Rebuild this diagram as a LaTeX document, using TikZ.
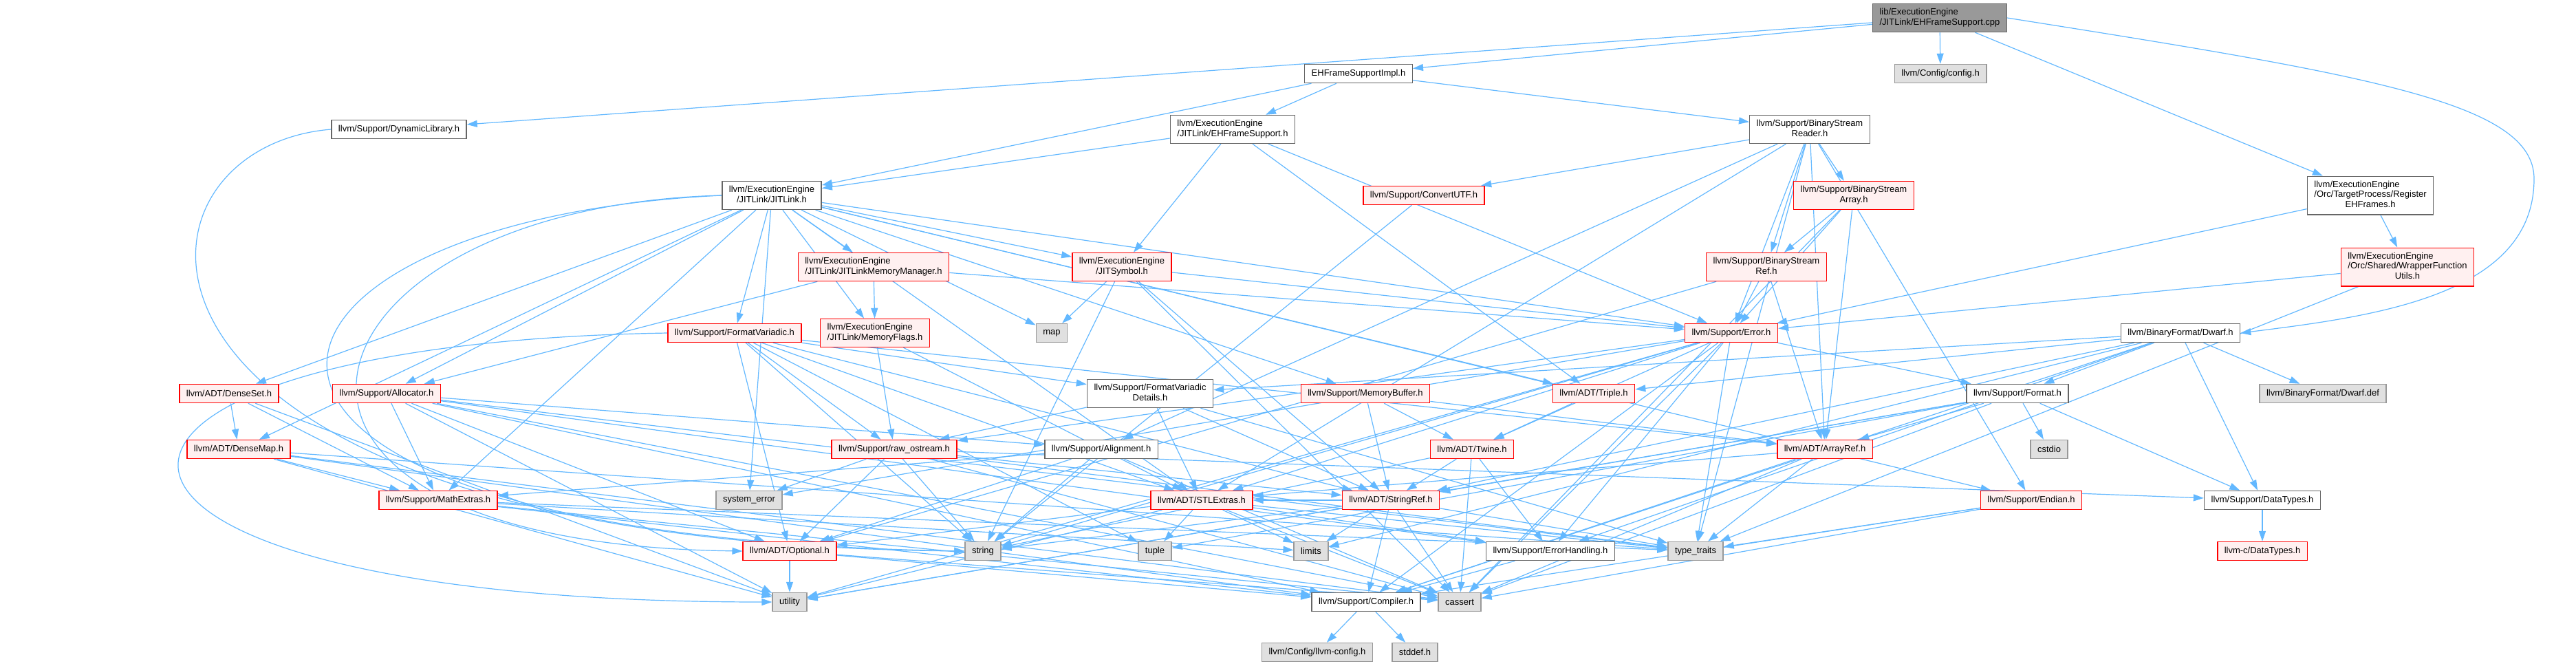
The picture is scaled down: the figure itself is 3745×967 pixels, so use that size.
\documentclass[tikz,border=0pt]{standalone}
\usepackage{fontspec}
\setmainfont{Liberation Sans}
\usetikzlibrary{arrows.meta,backgrounds}

\definecolor{edgeblue}{HTML}{63B8FF}
\definecolor{redfill}{HTML}{FFF0F0}
\definecolor{sysfill}{HTML}{E0E0E0}
\definecolor{sysdraw}{HTML}{999999}
\definecolor{hdrdraw}{HTML}{666666}
\definecolor{srcfill}{HTML}{999999}

\newcommand{\twoline}[2]{\begin{tabular}{@{}l@{}}#1\\\multicolumn{1}{@{}c@{}}{#2}\end{tabular}}
\newcommand{\threeline}[3]{\begin{tabular}{@{}l@{}}#1\\#2\\\multicolumn{1}{@{}c@{}}{#3}\end{tabular}}

\tikzset{
  hdr/.style={draw=hdrdraw, fill=white, line width=1.5pt, inner xsep=10pt, inner ysep=6pt, minimum height=27pt, font=\fontsize{13}{14.5}\selectfont},
  redhdr/.style={hdr, draw=red, fill=redfill},
  syshdr/.style={hdr, draw=sysdraw, fill=sysfill},
  srchdr/.style={hdr, draw=hdrdraw, fill=srcfill},
  inc/.style={draw=edgeblue, line width=1.2pt, -{Triangle[length=15pt,width=10pt]}}
}

\begin{document}
\begin{tikzpicture}[x=1pt,y=-1pt]
  \useasboundingbox (0,0) rectangle (3745,967);

  % rank 0-2
  \node[srchdr] (main) at (2820,26) {\twoline{lib/ExecutionEngine}{/JITLink/EHFrameSupport.cpp}};
  \node[hdr] (impl) at (1975,107) {EHFrameSupportImpl.h};
  \node[syshdr] (config) at (2821,107) {llvm/Config/config.h};
  \node[hdr] (dynlib) at (580,188) {llvm/Support/DynamicLibrary.h};
  \node[hdr] (ehfs) at (1792,188) {\twoline{llvm/ExecutionEngine}{/JITLink/EHFrameSupport.h}};
  \node[hdr] (bsreader) at (2631,188) {\twoline{llvm/Support/BinaryStream}{Reader.h}};

  % rank 3-4
  \node[hdr] (jitlink) at (1122,284) {\twoline{llvm/ExecutionEngine}{/JITLink/JITLink.h}};
  \node[redhdr] (convutf) at (2070,284) {llvm/Support/ConvertUTF.h};
  \node[redhdr] (bsarray) at (2695,284) {\twoline{llvm/Support/BinaryStream}{Array.h}};
  \node[hdr] (regeh) at (3446,284) {\threeline{llvm/ExecutionEngine}{/Orc/TargetProcess/Register}{EHFrames.h}};
  \node[redhdr] (jlmm) at (1270,388) {\twoline{llvm/ExecutionEngine}{/JITLink/JITLinkMemoryManager.h}};
  \node[redhdr] (jitsym) at (1631,388) {\twoline{llvm/ExecutionEngine}{/JITSymbol.h}};
  \node[redhdr] (bsref) at (2568,388) {\twoline{llvm/Support/BinaryStream}{Ref.h}};
  \node[redhdr] (wrapper) at (3500,388) {\threeline{llvm/ExecutionEngine}{/Orc/Shared/WrapperFunction}{Utils.h}};

  % rank 5-6
  \node[redhdr] (fmtvar) at (1068,484) {llvm/Support/FormatVariadic.h};
  \node[redhdr] (memflags) at (1272,484) {\twoline{llvm/ExecutionEngine}{/JITLink/MemoryFlags.h}};
  \node[syshdr] (map) at (1529,484) {map};
  \node[redhdr] (error) at (2517,484) {llvm/Support/Error.h};
  \node[hdr] (dwarf) at (3170,484) {llvm/BinaryFormat/Dwarf.h};
  \node[redhdr] (denseset) at (333,572) {llvm/ADT/DenseSet.h};
  \node[redhdr] (allocator) at (562,572) {llvm/Support/Allocator.h};
  \node[hdr] (fvdetails) at (1672,572) {\twoline{llvm/Support/FormatVariadic}{Details.h}};
  \node[redhdr] (membuf) at (1985,572) {llvm/Support/MemoryBuffer.h};
  \node[redhdr] (triple) at (2317,572) {llvm/ADT/Triple.h};
  \node[hdr] (format) at (2933,572) {llvm/Support/Format.h};
  \node[syshdr] (dwarfdef) at (3377,572) {llvm/BinaryFormat/Dwarf.def};

  % rank 7-8
  \node[redhdr] (densemap) at (347,653) {llvm/ADT/DenseMap.h};
  \node[redhdr] (rawos) at (1300,653) {llvm/Support/raw\_ostream.h};
  \node[hdr] (alignment) at (1601,653) {llvm/Support/Alignment.h};
  \node[redhdr] (twine) at (2140,653) {llvm/ADT/Twine.h};
  \node[redhdr] (arrayref) at (2653,653) {llvm/ADT/ArrayRef.h};
  \node[syshdr] (cstdio) at (2979,653) {cstdio};
  \node[redhdr] (mathext) at (637,727) {llvm/Support/MathExtras.h};
  \node[syshdr] (syserror) at (1089,727) {system\_error};
  \node[redhdr] (stlextras) at (1747,727) {llvm/ADT/STLExtras.h};
  \node[redhdr] (stringref) at (2022,727) {llvm/ADT/StringRef.h};
  \node[redhdr] (endian) at (2953,727) {llvm/Support/Endian.h};
  \node[hdr] (datatypes) at (3289,727) {llvm/Support/DataTypes.h};

  % rank 9-11
  \node[redhdr] (optional) at (1148,801) {llvm/ADT/Optional.h};
  \node[syshdr] (string) at (1429,801) {string};
  \node[syshdr] (tuple) at (1679,801) {tuple};
  \node[syshdr] (limits) at (1906,801) {limits};
  \node[hdr] (errhandling) at (2254,801) {llvm/Support/ErrorHandling.h};
  \node[syshdr] (typetraits) at (2465,801) {type\_traits};
  \node[redhdr] (llvmc) at (3289,801) {llvm-c/DataTypes.h};
  \node[syshdr] (utility) at (1148,875) {utility};
  \node[hdr] (compiler) at (1986,875) {llvm/Support/Compiler.h};
  \node[syshdr] (cassert) at (2122,875) {cassert};
  \node[syshdr] (llvmconfig) at (1915,948) {llvm/Config/llvm-config.h};
  \node[syshdr] (stddef) at (2057,948) {stddef.h};

  \coordinate (dwarfbend) at (3684,260);

  \begin{scope}[on background layer]
  % source file
  \draw[inc] (main) -- (impl);
  \draw[inc] (main) -- (config);
  \draw[inc] (main) -- (dynlib);
  \draw[inc] (main) -- (regeh);
  \draw[inc] (main.east) .. controls (3450,110) and (3684,150) .. (dwarfbend) .. controls (3684,430) and (3450,460) .. (dwarf.east);
  % impl, dynlib, ehfs
  \draw[inc] (impl) -- (ehfs);
  \draw[inc] (impl) -- (jitlink);
  \draw[inc] (impl) -- (bsreader);
  \draw[inc] (dynlib.west) .. controls (150,215) and (110,790) .. (string.west);
  \draw[inc] (ehfs) -- (jitlink);
  \draw[inc] (ehfs) -- (jitsym);
  \draw[inc] (ehfs) -- (triple);
  \draw[inc] (ehfs) -- (error);
  % binary stream reader
  \draw[inc] (bsreader) -- (convutf);
  \draw[inc] (bsreader) -- (bsarray);
  \draw[inc] (bsreader) -- (bsref);
  \draw[inc] (bsreader) -- (error);
  \draw[inc] (bsreader) -- (alignment);
  \draw[inc] (bsreader) -- (arrayref);
  \draw[inc] (bsreader) -- (stlextras);
  \draw[inc] (bsreader) -- (endian);
  \draw[inc] (bsreader) -- (typetraits);
  % jitlink
  \draw[inc] (jitlink) -- (jlmm);
  \draw[inc] (jitlink) -- (memflags);
  \draw[inc] (jitlink) -- (jitsym);
  \draw[inc] (jitlink) -- (fmtvar);
  \draw[inc] (jitlink) -- (densemap);
  \draw[inc] (jitlink) -- (denseset);
  \draw[inc] (jitlink) -- (allocator);
  \draw[inc] (jitlink.west) .. controls (420,300) and (260,790) .. (optional.west);
  \draw[inc] (jitlink) -- (stlextras);
  \draw[inc] (jitlink) -- (triple);
  \draw[inc] (jitlink) -- (endian);
  \draw[inc] (jitlink) -- (error);
  \draw[inc] (jitlink) -- (mathext);
  \draw[inc] (jitlink) -- (membuf);
  \draw[inc] (jitlink) -- (map);
  \draw[inc] (jitlink.west) .. controls (300,320) and (160,780) .. (string.west);
  \draw[inc] (jitlink) -- (syserror);
  % rank 3-4 others
  \draw[inc] (convutf) -- (string);
  \draw[inc] (bsarray) -- (bsref);
  \draw[inc] (bsarray) -- (error);
  \draw[inc] (bsarray) -- (arrayref);
  \draw[inc] (bsarray) -- (cassert);
  \draw[inc] (regeh) -- (wrapper);
  \draw[inc] (regeh) -- (error);
  \draw[inc] (wrapper) -- (error);
  \draw[inc] (wrapper) -- (typetraits);
  \draw[inc] (jlmm) -- (memflags);
  \draw[inc] (jlmm) -- (allocator);
  \draw[inc] (jlmm) -- (error);
  \draw[inc] (jitsym) -- (map);
  \draw[inc] (jitsym) -- (string);
  \draw[inc] (jitsym) -- (cassert);
  \draw[inc] (jitsym) -- (stringref);
  \draw[inc] (jitsym) -- (error);
  \draw[inc] (bsref) -- (arrayref);
  \draw[inc] (bsref) -- (optional);
  \draw[inc] (bsref) -- (error);
  % format variadic
  \draw[inc] (fmtvar) -- (fvdetails);
  \draw[inc] (fmtvar) -- (arrayref);
  \draw[inc] (fmtvar) -- (optional);
  \draw[inc] (fmtvar) -- (stlextras);
  \draw[inc] (fmtvar) -- (stringref);
  \draw[inc] (fmtvar) -- (rawos);
  \draw[inc] (fmtvar) -- (string);
  \draw[inc] (fmtvar) -- (tuple);
  \draw[inc] (fmtvar.west) .. controls (0,500) and (0,875) .. (utility.west);
  \draw[inc] (memflags) -- (stlextras);
  \draw[inc] (memflags) -- (rawos);
  % error
  \draw[inc] (error) -- (stlextras);
  \draw[inc] (error) -- (twine);
  \draw[inc] (error) -- (compiler);
  \draw[inc] (error) -- (errhandling);
  \draw[inc] (error) -- (format);
  \draw[inc] (error) -- (rawos);
  \draw[inc] (error) -- (cassert);
  \draw[inc] (error) -- (string);
  \draw[inc] (error) -- (syserror);
  \draw[inc] (error) -- (typetraits);
  \draw[inc] (error) -- (utility);
  % dwarf
  \draw[inc] (dwarf) -- (fvdetails);
  \draw[inc] (dwarf) -- (triple);
  \draw[inc] (dwarf) -- (format);
  \draw[inc] (dwarf) -- (dwarfdef);
  \draw[inc] (dwarf) -- (stringref);
  \draw[inc] (dwarf) -- (compiler);
  \draw[inc] (dwarf) -- (errhandling);
  \draw[inc] (dwarf) -- (datatypes);
  \draw[inc] (dwarf) -- (limits);
  % rank 6
  \draw[inc] (denseset) -- (densemap);
  \draw[inc] (denseset) -- (mathext);
  \draw[inc] (denseset) -- (utility);
  \draw[inc] (allocator) -- (optional);
  \draw[inc] (allocator) -- (alignment);
  \draw[inc] (allocator) -- (compiler);
  \draw[inc] (allocator) -- (mathext);
  \draw[inc] (allocator) -- (cassert);
  \draw[inc] (allocator) -- (typetraits);
  \draw[inc] (allocator) -- (utility);
  \draw[inc] (allocator) -- (errhandling);
  \draw[inc] (fvdetails) -- (rawos);
  \draw[inc] (fvdetails) -- (stringref);
  \draw[inc] (fvdetails) -- (stlextras);
  \draw[inc] (fvdetails) -- (typetraits);
  \draw[inc] (membuf) -- (arrayref);
  \draw[inc] (membuf) -- (stringref);
  \draw[inc] (membuf) -- (twine);
  \draw[inc] (triple) -- (twine);
  \draw[inc] (format) -- (arrayref);
  \draw[inc] (format) -- (stringref);
  \draw[inc] (format) -- (datatypes);
  \draw[inc] (format) -- (cassert);
  \draw[inc] (format) -- (cstdio);
  \draw[inc] (format) -- (tuple);
  \draw[inc] (format) -- (utility);
  % rank 7
  \draw[inc] (densemap) -- (compiler);
  \draw[inc] (densemap) -- (mathext);
  \draw[inc] (densemap) -- (cassert);
  \draw[inc] (densemap) -- (typetraits);
  \draw[inc] (densemap) -- (utility);
  \draw[inc] (rawos) -- (stringref);
  \draw[inc] (rawos) -- (datatypes);
  \draw[inc] (rawos) -- (cassert);
  \draw[inc] (rawos) -- (string);
  \draw[inc] (rawos) -- (syserror);
  \draw[inc] (rawos) -- (typetraits);
  \draw[inc] (rawos) -- (optional);
  \draw[inc] (alignment) -- (optional);
  \draw[inc] (alignment) -- (mathext);
  \draw[inc] (alignment) -- (cassert);
  \draw[inc] (alignment) -- (string);
  \draw[inc] (twine) -- (stringref);
  \draw[inc] (twine) -- (errhandling);
  \draw[inc] (twine) -- (cassert);
  \draw[inc] (twine) -- (string);
  \draw[inc] (arrayref) -- (stlextras);
  \draw[inc] (arrayref) -- (compiler);
  \draw[inc] (arrayref) -- (cassert);
  \draw[inc] (arrayref) -- (typetraits);
  % rank 8
  \draw[inc] (mathext) -- (compiler);
  \draw[inc] (mathext) -- (cassert);
  \draw[inc] (mathext) -- (limits);
  \draw[inc] (mathext) -- (typetraits);
  \draw[inc] (stlextras) -- (optional);
  \draw[inc] (stlextras) -- (errhandling);
  \draw[inc] (stlextras) -- (cassert);
  \draw[inc] (stlextras) -- (limits);
  \draw[inc] (stlextras) -- (tuple);
  \draw[inc] (stlextras) -- (typetraits);
  \draw[inc] (stlextras) -- (utility);
  \draw[inc] (stringref) -- (stlextras);
  \draw[inc] (stringref) -- (compiler);
  \draw[inc] (stringref) -- (cassert);
  \draw[inc] (stringref) -- (limits);
  \draw[inc] (stringref) -- (string);
  \draw[inc] (stringref) -- (typetraits);
  \draw[inc] (stringref) -- (utility);
  \draw[inc] (endian) -- (compiler);
  \draw[inc] (endian) -- (cassert);
  \draw[inc] (endian) -- (typetraits);
  \draw[inc] (datatypes) -- (llvmc);
  % rank 9-10
  \draw[inc] (optional) -- (compiler);
  \draw[inc] (optional) -- (cassert);
  \draw[inc] (optional) -- (utility);
  \draw[inc] (errhandling) -- (compiler);
  \draw[inc] (compiler) -- (llvmconfig);
  \draw[inc] (compiler) -- (stddef);
  \end{scope}
\end{tikzpicture}
\end{document}
